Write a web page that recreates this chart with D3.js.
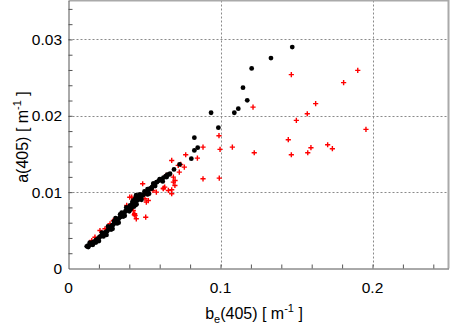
<!DOCTYPE html>
<html><head><meta charset="utf-8">
<script src="https://cdn.jsdelivr.net/npm/d3@7"></script>
<style>body{margin:0;background:#fff}svg{display:block}text{font-family:"Liberation Sans",Arial,sans-serif;fill:#000}</style>
</head><body><svg id="c" width="450" height="324"></svg>
<script>
// Black dots: [b_e(405), a(405)]
const blackSeries = [
 [0.1472,0.0290],[0.1332,0.02756],[0.1205,0.02621],[0.1148,0.02368],[0.1176,0.02202],[0.1117,0.02093],
 [0.1091,0.02040],[0.0938,0.02040],[0.0986,0.01844],[0.0828,0.01713],[0.0850,0.01582],[0.0828,0.01547],
 [0.0808,0.01438],[0.0731,0.01363],[0.0694,0.01297],[0.0663,0.01232],
 [0.0120,0.0029],[0.0128,0.0030],[0.0135,0.0030],[0.0142,0.0031],[0.0150,0.0032],[0.0158,0.0034],
 [0.0165,0.0035],[0.0172,0.0035],[0.0180,0.0037],[0.0188,0.0038],[0.0195,0.0039],[0.0203,0.0041],
 [0.0210,0.0042],[0.0218,0.0043],[0.0225,0.0045],[0.0232,0.0045],[0.0240,0.0047],[0.0248,0.0048],
 [0.0255,0.0049],[0.0262,0.0051],[0.0270,0.0053],[0.0278,0.0054],[0.0285,0.0056],[0.0292,0.0057],
 [0.0300,0.0059],[0.0308,0.0061],[0.0315,0.0062],[0.0322,0.0064],[0.0330,0.0065],[0.0338,0.0067],
 [0.0345,0.0068],[0.0352,0.0070],[0.0360,0.0072],[0.0368,0.0073],[0.0375,0.0075],[0.0382,0.0076],
 [0.0390,0.0078],[0.0398,0.0079],[0.0405,0.0081],[0.0412,0.0082],[0.0420,0.0084],[0.0428,0.0085],
 [0.0435,0.0086],[0.0442,0.0088],[0.0450,0.0089],[0.0458,0.0090],[0.0465,0.0092],[0.0472,0.0093],
 [0.0480,0.0094],[0.0490,0.0096],[0.0500,0.0098],[0.0512,0.0100],[0.0525,0.0102],[0.0538,0.0105],
 [0.0550,0.0107],[0.0565,0.0110],[0.0580,0.0113],[0.0595,0.0115],[0.0610,0.0117],[0.0625,0.0119],
 [0.0640,0.0121],
 [0.0180,0.0034],[0.0230,0.0042],[0.0280,0.0051],[0.0320,0.0059],[0.0360,0.0068],[0.0400,0.0075],
 [0.0440,0.0083],[0.0480,0.0090],[0.0520,0.0097],[0.0300,0.0062],[0.0350,0.0073],[0.0420,0.0087],
 [0.0460,0.0094],[0.0600,0.0117],[0.0560,0.0111],[0.0646,0.01197],[0.0668,0.01241],[0.0602,0.01162],
 [0.0580,0.01131],[0.0558,0.0111],[0.0426,0.00891],[0.0405,0.00826],
 [0.0200,0.0036],[0.0220,0.0047],[0.0250,0.0044],[0.0260,0.0055],[0.0290,0.0052],[0.0310,0.0066],
 [0.0330,0.0060],[0.0340,0.0071],[0.0370,0.0069],[0.0380,0.0080],[0.0410,0.0078],[0.0430,0.0081],
 [0.0440,0.0092],[0.0445,0.0096],[0.0448,0.0084],[0.0470,0.0097],[0.0500,0.0101],[0.0520,0.0104],
 [0.0530,0.0098],[0.0547,0.01045],[0.0570,0.0108],[0.0620,0.0114],[0.0650,0.0123],[0.0140,0.0034],
 [0.0160,0.0031],[0.0130,0.0028]
];
// Red crosses: [b_e(405), a(405)]
const redSeries = [
 [0.1466,0.02539],[0.1903,0.02595],[0.1810,0.02434],[0.1626,0.02159],[0.1571,0.02027],[0.1214,0.02114],
 [0.1499,0.01940],[0.1957,0.01822],[0.1446,0.01687],[0.1705,0.01621],[0.1736,0.01569],[0.1595,0.01582],
 [0.1574,0.01516],[0.1466,0.01490],[0.1222,0.01516],[0.1078,0.01590],[0.0997,0.01560],[0.0990,0.01739],
 [0.0885,0.01590],[0.0848,0.01446],[0.0771,0.01490],[0.0679,0.01415],[0.0738,0.01363],[0.0762,0.01328],
 [0.0729,0.01262],[0.0690,0.01197],[0.0701,0.01153],[0.0885,0.01175],[0.0992,0.01183],[0.0679,0.01031],
 [0.0624,0.01053],[0.0722,0.01350],
 [0.0153,0.00367],[0.0174,0.0041],[0.0207,0.00498],[0.0240,0.0052],[0.0273,0.00586],[0.0295,0.00629],
 [0.0393,0.00803],[0.0416,0.00934],[0.0438,0.00695],[0.0426,0.0076],[0.0383,0.00826],[0.0488,0.0111],
 [0.0403,0.00934],[0.0512,0.00869],[0.0435,0.00717],[0.0446,0.00651],[0.0508,0.00672],[0.0633,0.01066],
 [0.0643,0.01219],[0.0556,0.01022],[0.0578,0.0100],[0.0523,0.00979],[0.0690,0.01131],[0.0700,0.01088],
 [0.0679,0.00979],[0.0657,0.01022],[0.0503,0.00913],[0.0433,0.00704],[0.0525,0.0089],[0.0624,0.01045]
];
const xDomain = [0, 0.25];
const yDomain = [0, 0.0351];
const xMajorTicks = [0, 0.1, 0.2];
const xTickLabels = ["0", "0.1", "0.2"];
const yMajorTicks = [0, 0.01, 0.02, 0.03];
const yTickLabels = ["0", "0.01", "0.02", "0.03"];
const xMinorTicks = d3.range(1, 13).map(i => i * 0.02);
const yMinorTicks = d3.range(1, 18).map(i => i * 0.002);

const L = 68.5, R = 448.5, T = 0.5, B = 268.5;
const svg = d3.select("#c");
const x = d3.scaleLinear().domain(xDomain).range([L, R]);
const y = d3.scaleLinear().domain(yDomain).range([B, T]);

// grid
const g = svg.append("g");
g.selectAll(".gx").data(xMajorTicks.slice(1)).join("line")
  .attr("x1", d => Math.round(x(d)) + 0.5).attr("x2", d => Math.round(x(d)) + 0.5)
  .attr("y1", T).attr("y2", B)
  .attr("stroke", "#8a8a8a").attr("stroke-dasharray", "2,2").attr("stroke-width", 1);
g.selectAll(".gy").data(yMajorTicks.slice(1)).join("line")
  .attr("y1", d => Math.round(y(d)) + 0.5).attr("y2", d => Math.round(y(d)) + 0.5)
  .attr("x1", L).attr("x2", R)
  .attr("stroke", "#8a8a8a").attr("stroke-dasharray", "2,2").attr("stroke-width", 1);

// frame top/right
svg.append("line").attr("x1", L).attr("x2", R + 0.5).attr("y1", 0.5).attr("y2", 0.5)
  .attr("stroke", "#aaa").attr("stroke-width", 2);
svg.append("line").attr("x1", R).attr("x2", R).attr("y1", 0).attr("y2", B)
  .attr("stroke", "#aaa").attr("stroke-width", 2);

// axes with inward minor ticks
const xAxis = d3.axisBottom(x).tickValues(xMinorTicks).tickSizeInner(-4).tickSizeOuter(0).tickFormat("");
const xa = svg.append("g").attr("transform", `translate(0,${B})`).call(xAxis);
xa.selectAll("path,line").attr("stroke", "#555");
const yAxis = d3.axisLeft(y).tickValues(yMinorTicks).tickSizeInner(-4).tickSizeOuter(0).tickFormat("");
const ya = svg.append("g").attr("transform", `translate(${L},0)`).call(yAxis);
ya.selectAll("path,line").attr("stroke", "#555");

// tick labels
const fs = 15.5;
svg.selectAll(".xl").data(xMajorTicks).join("text")
  .attr("x", d => x(d)).attr("y", 293).attr("text-anchor", "middle")
  .attr("font-size", fs).text((d, i) => xTickLabels[i]);
svg.selectAll(".yl").data(yMajorTicks).join("text")
  .attr("x", 62).attr("y", d => y(d) + 5.5).attr("text-anchor", "end")
  .attr("font-size", fs).text((d, i) => yTickLabels[i]);

// axis titles
const xt = svg.append("text").attr("x", 254).attr("y", 319).attr("text-anchor", "middle").attr("font-size", 16);
xt.append("tspan").text("b");
xt.append("tspan").attr("font-size", 11).attr("dy", 4).text("e");
xt.append("tspan").attr("dy", -4).text("(405) [ m");
xt.append("tspan").attr("font-size", 11).attr("dy", -7).text("-1");
xt.append("tspan").attr("dy", 7).text(" ]");

const yt = svg.append("text").attr("transform", "translate(28,137) rotate(-90)").attr("text-anchor", "middle").attr("font-size", 16);
yt.append("tspan").text("a(405) [ m");
yt.append("tspan").attr("font-size", 11).attr("dy", -7).text("-1");
yt.append("tspan").attr("dy", 7).text(" ]");

// data
const s = 2.6;
svg.append("g").selectAll("path").data(redSeries).join("path")
  .attr("d", d => `M${x(d[0]) - s},${y(d[1])}h${2 * s}M${x(d[0])},${y(d[1]) - s}v${2 * s}`)
  .attr("stroke", "#ff0000").attr("stroke-width", 1.4).attr("fill", "none");
svg.append("g").selectAll("circle").data(blackSeries).join("circle")
  .attr("cx", d => x(d[0])).attr("cy", d => y(d[1])).attr("r", 2.4).attr("fill", "#000");
</script></body></html>
